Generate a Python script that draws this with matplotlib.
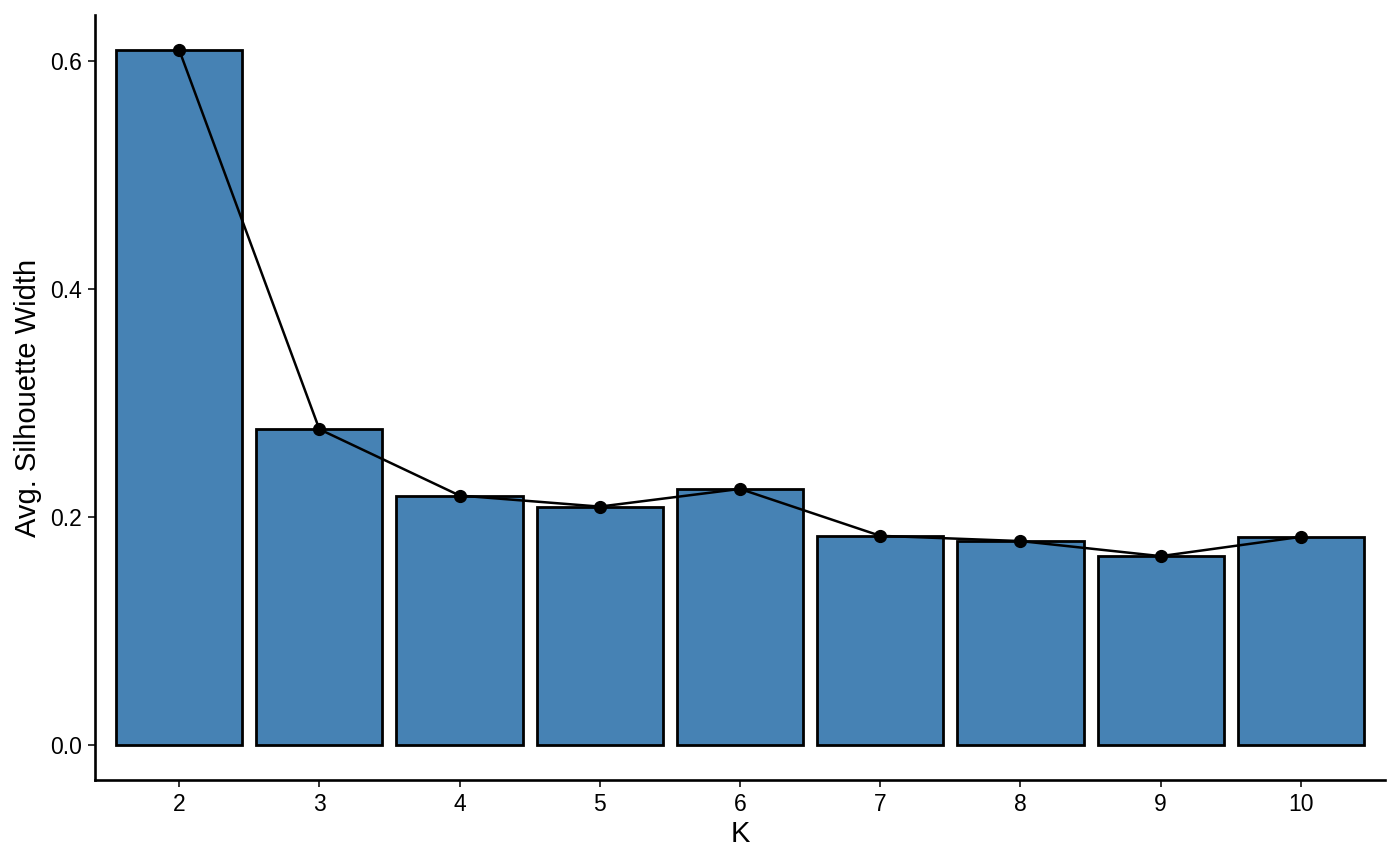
import matplotlib
matplotlib.use("Agg")
import matplotlib.pyplot as plt

k_values = [2, 3, 4, 5, 6, 7, 8, 9, 10]
silhouette = [0.6094, 0.2769, 0.2188, 0.2091, 0.2246, 0.1835, 0.1789, 0.1657, 0.1826]
tick_labels = [str(k) for k in k_values]

plt.rcParams['font.family'] = ['Liberation Sans', 'DejaVu Sans']

fig = plt.figure(figsize=(14, 8.65), dpi=100)
W, H = 1400, 865
ax = fig.add_axes([95 / W, 1 - 780 / H, (1385 - 95) / W, (780 - 15) / H])

ax.bar(k_values, silhouette, width=0.9, color='#4682B4', edgecolor='black', linewidth=2.0, zorder=2)
ax.plot(k_values, silhouette, color='black', linewidth=1.8, zorder=3)
ax.plot(k_values, silhouette, 'o', color='black', markersize=8.5, zorder=4)

ymax = max(silhouette)
ax.set_xlim(1.4, 10.6)
ax.set_ylim(-0.05 * ymax, 1.05 * ymax)
ax.set_xticks(k_values)
ax.set_xticklabels(tick_labels)
ax.set_yticks([0.0, 0.2, 0.4, 0.6])
ax.set_yticklabels(['0.0', '0.2', '0.4', '0.6'])

for s in ['top', 'right']:
    ax.spines[s].set_visible(False)
for s in ['left', 'bottom']:
    ax.spines[s].set_linewidth(1.9)
    ax.spines[s].set_color('black')

ax.tick_params(axis='both', length=5, width=1.4, color='#333333', labelsize=16.5, labelcolor='black', pad=4.5)

ax.set_xlabel('K', fontsize=21, labelpad=3)
ax.set_ylabel('Avg. Silhouette Width', fontsize=21, labelpad=6)

fig.savefig('out.png', dpi=100, facecolor='white')
